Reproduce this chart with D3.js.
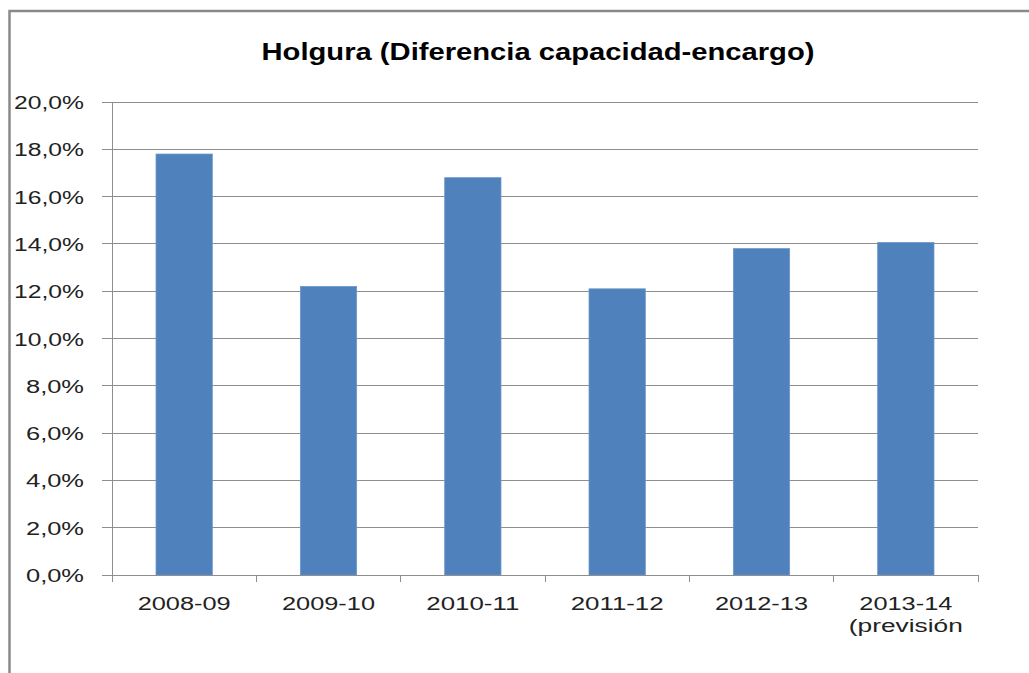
<!DOCTYPE html>
<html lang="es">
<head>
    <meta charset="UTF-8">
    <title>Holgura (Diferencia capacidad-encargo)</title>
    <script src="https://cdnjs.cloudflare.com/ajax/libs/d3/7.8.5/d3.min.js"></script>
    <style>
        body { margin: 0; background: #fff; overflow: hidden; }
        svg { display: block; }
        .lbl { font-family: 'Liberation Sans', Arial, sans-serif; fill: #222; }
    </style>
</head>
<body>
    <div id="chart"></div>
    <script>
        // data
        const seasons = ["2008-09", "2009-10", "2010-11", "2011-12", "2012-13", "2013-14"];
        const seasonNotes = ["", "", "", "", "", "(previsión"];
        const holgura = [17.8, 12.2, 16.8, 12.1, 13.8, 14.06];
        const yTicks = [0, 2, 4, 6, 8, 10, 12, 14, 16, 18, 20];

        const W = 1029, H = 673;
        const plot = { left: 112, right: 978, top: 102, bottom: 575 };

        const svg = d3.select("#chart").append("svg")
            .attr("width", W)
            .attr("height", H);

        // outer frame (only top and left edges are visible in the crop)
        svg.append("path")
            .attr("d", `M9.5,${H + 5} V11 H${W + 5}`)
            .attr("fill", "none")
            .attr("stroke", "#8a8a8a")
            .attr("stroke-width", 2.5);

        svg.append("text")
            .attr("class", "lbl")
            .attr("x", 538)
            .attr("y", 60)
            .attr("text-anchor", "middle")
            .attr("font-size", 23)
            .attr("font-weight", "bold")
            .attr("textLength", 553)
            .attr("lengthAdjust", "spacingAndGlyphs")
            .style("fill", "#000")
            .text("Holgura (Diferencia capacidad-encargo)");

        const x = d3.scaleBand()
            .domain(seasons)
            .range([plot.left, plot.right])
            .padding(0);

        const y = d3.scaleLinear()
            .domain([0, 20])
            .range([plot.bottom, plot.top]);

        const fmt = v => d3.format(".1f")(v).replace(".", ",") + "%";

        // gridlines + y ticks
        const grid = svg.append("g").attr("shape-rendering", "crispEdges");
        grid.selectAll("line")
            .data(yTicks.filter(d => d > 0))
            .join("line")
            .attr("x1", plot.left - 10)
            .attr("x2", plot.right)
            .attr("y1", d => y(d))
            .attr("y2", d => y(d))
            .attr("stroke", "#8e8e8e");

        // the original font is wide, so stretch labels to its widths
        svg.append("g")
            .selectAll("text")
            .data(yTicks)
            .join("text")
            .attr("class", "lbl")
            .attr("x", 84)
            .attr("y", d => y(d) + 7)
            .attr("text-anchor", "end")
            .attr("font-size", 18)
            .attr("textLength", d => d >= 10 ? 70 : 58)
            .attr("lengthAdjust", "spacingAndGlyphs")
            .text(fmt);

        // bars
        const barW = x.bandwidth() * 0.39;
        svg.append("g")
            .selectAll("rect")
            .data(holgura)
            .join("rect")
            .attr("x", (d, i) => x(seasons[i]) + (x.bandwidth() - barW) / 2)
            .attr("y", d => y(d))
            .attr("width", barW)
            .attr("height", d => plot.bottom - y(d))
            .attr("fill", "#4f81bd")
            .attr("stroke", "#6d96c8")
            .attr("stroke-width", 0.8);

        // axes lines
        const axes = svg.append("g")
            .attr("stroke", "#8e8e8e")
            .attr("shape-rendering", "crispEdges");
        axes.append("line")
            .attr("x1", plot.left).attr("x2", plot.left)
            .attr("y1", plot.top).attr("y2", plot.bottom);
        axes.append("line")
            .attr("x1", plot.left - 10).attr("x2", plot.right)
            .attr("y1", plot.bottom).attr("y2", plot.bottom);
        axes.selectAll(".xt")
            .data(seasons.map(s => x(s)).concat([plot.right]))
            .join("line")
            .attr("class", "xt")
            .attr("x1", d => d).attr("x2", d => d)
            .attr("y1", plot.bottom).attr("y2", plot.bottom + 7);

        // category labels
        const cx = d => x(d) + x.bandwidth() / 2;
        svg.append("g")
            .selectAll("text")
            .data(seasons)
            .join("text")
            .attr("class", "lbl")
            .attr("x", cx)
            .attr("y", 610)
            .attr("text-anchor", "middle")
            .attr("font-size", 18)
            .attr("textLength", 93)
            .attr("lengthAdjust", "spacingAndGlyphs")
            .text(d => d);

        svg.append("g")
            .selectAll("text")
            .data(seasons.filter((d, i) => seasonNotes[i]))
            .join("text")
            .attr("class", "lbl")
            .attr("x", cx)
            .attr("y", 632)
            .attr("text-anchor", "middle")
            .attr("font-size", 18)
            .attr("textLength", 114)
            .attr("lengthAdjust", "spacingAndGlyphs")
            .text(d => seasonNotes[seasons.indexOf(d)]);
    </script>
</body>
</html>
